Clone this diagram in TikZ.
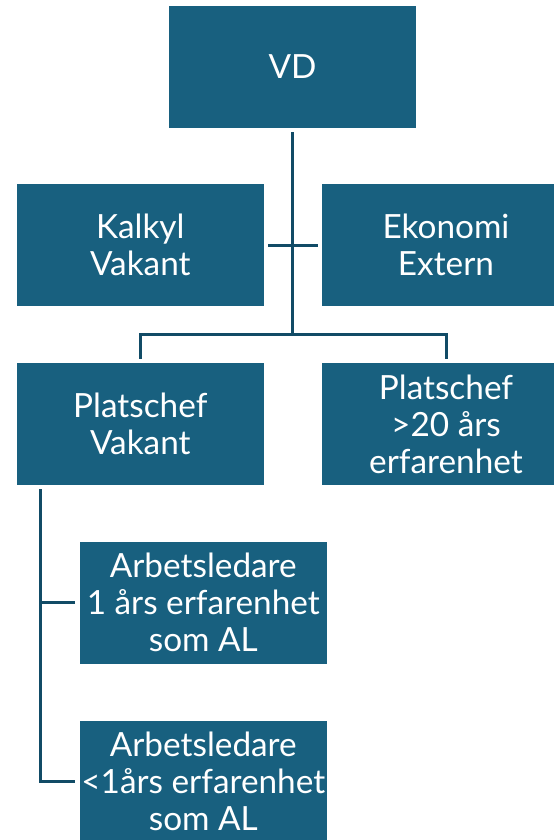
\documentclass[tikz,border=0pt]{standalone}
\usepackage{fontspec}
\setmainfont{Lato}
\definecolor{boxblue}{HTML}{18607F}
\definecolor{linkblue}{HTML}{114B66}
\tikzset{
  orgbox/.style={rectangle, fill=boxblue, text=white, align=center,
    minimum width=185.6pt, minimum height=91.5pt, inner sep=0pt,
    font=\fontsize{25}{27.75}\selectfont},
  link/.style={draw=linkblue, line width=2.25pt}
}
\begin{document}
\begin{tikzpicture}[x=0.75pt, y=-0.75pt]
\useasboundingbox (0,0) rectangle (554,840);
\clip (0,0) rectangle (554,840);

% boxes
\node[orgbox] (vd) at (292.5,67) {VD};
\node[orgbox] (kalkyl) at (140.3,245) {Kalkyl\\Vakant};
\node[orgbox] (ekonomi) at (446,245) {Ekonomi\\Extern};
\node[orgbox] (platsA) at (140.3,424) {Platschef\\Vakant};
\node[orgbox] (platsB) at (446,424) {Platschef\\>20 års\\erfarenhet};
\node[orgbox] (alA) at (203.3,602.5) {Arbetsledare\\1 års erfarenhet\\som AL};
\node[orgbox] (alB) at (203.3,781.5) {Arbetsledare\\<1års erfarenhet\\som AL};

% connectors
\coordinate (bus) at (292.5,334);
\coordinate (spine) at (40,489);
\draw[link, shorten <=3pt] (vd.south) -- (bus);
\draw[link, shorten <=3pt, shorten >=3pt] (kalkyl.east) -- (ekonomi.west);
\draw[link, shorten >=3pt] (bus) -| (platsA.north);
\draw[link, shorten >=3pt] (bus) -| (platsB.north);
\draw[link, shorten >=3.4pt] (spine) |- (alA.west);
\draw[link, shorten >=3.4pt] (spine) |- (alB.west);
\end{tikzpicture}
\end{document}
